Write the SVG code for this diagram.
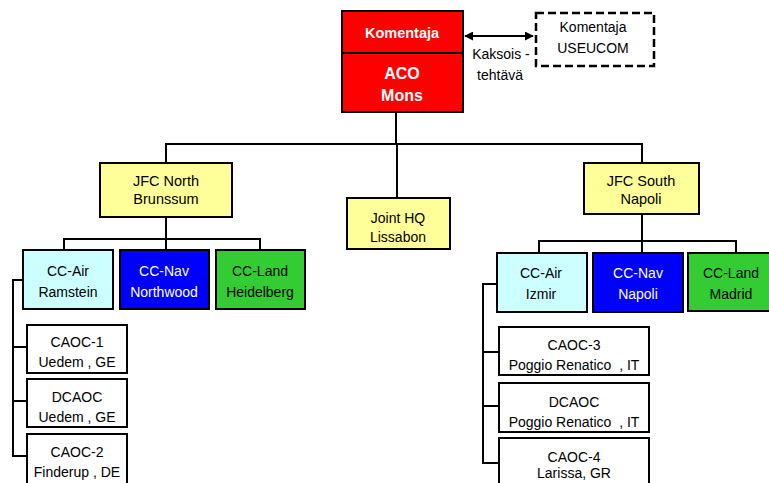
<svg xmlns="http://www.w3.org/2000/svg" width="769" height="483" viewBox="0 0 769 483">
<style>
  .box{stroke:#000;stroke-width:2}
  .t{font-family:"Liberation Sans",Arial,sans-serif;font-size:14px;text-anchor:middle;fill:#000}
  .w{fill:#fff}
  .b{font-weight:bold}
  .pre{white-space:pre}
  .ln{stroke:#000;stroke-width:2;fill:none}
  .yel{fill:#FFFF99}.cy{fill:#CCFFFF}.bl{fill:#0000FF}.gr{fill:#33CC33}.wh{fill:#fff}.red{fill:#FF0000}
</style>
<defs>
  <marker id="ah" viewBox="0 0 10 10" refX="9" refY="5" markerWidth="9" markerHeight="9" markerUnits="userSpaceOnUse" orient="auto-start-reverse">
    <path d="M0,0 L10,5 L0,10 z" fill="#000"/>
  </marker>
</defs>
<rect width="769" height="483" fill="#fff"/>
<g id="connectors">
  <line class="ln" x1="465" y1="36" x2="533" y2="36" marker-start="url(#ah)" marker-end="url(#ah)"/>
  <polyline class="ln" points="396,112 396,144"/>
  <polyline class="ln" points="166,163 166,144 642,144 642,163"/>
  <polyline class="ln" points="397,144 397,198"/>
  <polyline class="ln" points="166,217 166,239"/>
  <polyline class="ln" points="64,250 64,239 260,239 260,250"/>
  <polyline class="ln" points="166,239 166,250"/>
  <polyline class="ln" points="642,214 642,241"/>
  <polyline class="ln" points="539,252 539,241 736,241 736,252"/>
  <polyline class="ln" points="642,241 642,252"/>
  <polyline class="ln" points="23,280 13,280 13,456 27,456"/>
  <polyline class="ln" points="13,347 27,347"/>
  <polyline class="ln" points="13,401 27,401"/>
  <polyline class="ln" points="497,284 483,284 483,463 499,463"/>
  <polyline class="ln" points="483,352 499,352"/>
  <polyline class="ln" points="483,406 499,406"/>
</g>
<g id="komentaja">
  <rect class="box red" x="342" y="11" width="121" height="42"/>
  <text class="t w b" x="402" y="38" style="font-size:14.5px">Komentaja</text>
</g>
<g id="aco-mons">
  <rect class="box red" x="342" y="53" width="121" height="59"/>
  <text class="t w b" x="402" y="79" style="font-size:16px">ACO</text>
  <text class="t w b" x="402" y="101" style="font-size:16px">Mons</text>
</g>
<g id="useucom">
  <rect x="536" y="13" width="118" height="53" fill="#fff" stroke="#000" stroke-width="2.5" stroke-dasharray="8,4"/>
  <text class="t" x="593" y="32">Komentaja</text>
  <text class="t" x="593" y="53">USEUCOM</text>
</g>
<g id="kaksois-label">
  <text class="t" x="501" y="59">Kaksois -</text>
  <text class="t" x="500" y="80">tehtävä</text>
</g>
<g id="jfc-north">
  <rect class="box yel" x="100" y="163" width="132" height="54"/>
  <text class="t" x="166" y="186" style="font-size:14.5px">JFC North</text>
  <text class="t" x="166" y="204" style="font-size:14.5px">Brunssum</text>
</g>
<g id="joint-hq">
  <rect class="box yel" x="347" y="198" width="103" height="51"/>
  <text class="t" x="398" y="223">Joint HQ</text>
  <text class="t" x="398" y="242">Lissabon</text>
</g>
<g id="jfc-south">
  <rect class="box yel" x="584" y="163" width="115" height="51"/>
  <text class="t" x="641" y="186" style="font-size:14.5px">JFC South</text>
  <text class="t" x="641" y="204" style="font-size:14.5px">Napoli</text>
</g>
<g id="cc-air-ramstein">
  <rect class="box cy" x="23" y="250" width="90" height="59"/>
  <text class="t" x="68" y="276">CC-Air</text>
  <text class="t" x="68" y="297">Ramstein</text>
</g>
<g id="cc-nav-northwood">
  <rect class="box bl" x="120" y="250" width="89" height="59"/>
  <text class="t w" x="164" y="276">CC-Nav</text>
  <text class="t w" x="164" y="297">Northwood</text>
</g>
<g id="cc-land-heidelberg">
  <rect class="box gr" x="216" y="250" width="89" height="59"/>
  <text class="t" x="260" y="276">CC-Land</text>
  <text class="t" x="260" y="297">Heidelberg</text>
</g>
<g id="cc-air-izmir">
  <rect class="box cy" x="497" y="253" width="90" height="59"/>
  <text class="t" x="541" y="278">CC-Air</text>
  <text class="t" x="541" y="299">Izmir</text>
</g>
<g id="cc-nav-napoli">
  <rect class="box bl" x="593" y="253" width="90" height="59"/>
  <text class="t w" x="638" y="278">CC-Nav</text>
  <text class="t w" x="638" y="299">Napoli</text>
</g>
<g id="cc-land-madrid">
  <rect class="box gr" x="688" y="253" width="90" height="58"/>
  <text class="t" x="731" y="278">CC-Land</text>
  <text class="t" x="731" y="299">Madrid</text>
</g>
<g id="caoc-1">
  <rect class="box wh" x="27" y="325" width="100" height="48"/>
  <text class="t" x="77" y="347">CAOC-1</text>
  <text class="t" x="77" y="367">Uedem , GE</text>
</g>
<g id="dcaoc-uedem">
  <rect class="box wh" x="27" y="379" width="100" height="48"/>
  <text class="t" x="77" y="402">DCAOC</text>
  <text class="t" x="77" y="422">Uedem , GE</text>
</g>
<g id="caoc-2">
  <rect class="box wh" x="27" y="434" width="100" height="52"/>
  <text class="t" x="77" y="457">CAOC-2</text>
  <text class="t" x="77" y="477">Finderup , DE</text>
</g>
<g id="caoc-3">
  <rect class="box wh" x="499" y="327" width="150" height="48"/>
  <text class="t" x="574" y="350">CAOC-3</text>
  <text class="t pre" x="574" y="370" xml:space="preserve">Poggio Renatico  , IT</text>
</g>
<g id="dcaoc-poggio">
  <rect class="box wh" x="499" y="383" width="150" height="49"/>
  <text class="t" x="574" y="407">DCAOC</text>
  <text class="t pre" x="574" y="427" xml:space="preserve">Poggio Renatico  , IT</text>
</g>
<g id="caoc-4">
  <rect class="box wh" x="499" y="438" width="150" height="50"/>
  <text class="t" x="574" y="462">CAOC-4</text>
  <text class="t" x="574" y="478">Larissa, GR</text>
</g>
</svg>
